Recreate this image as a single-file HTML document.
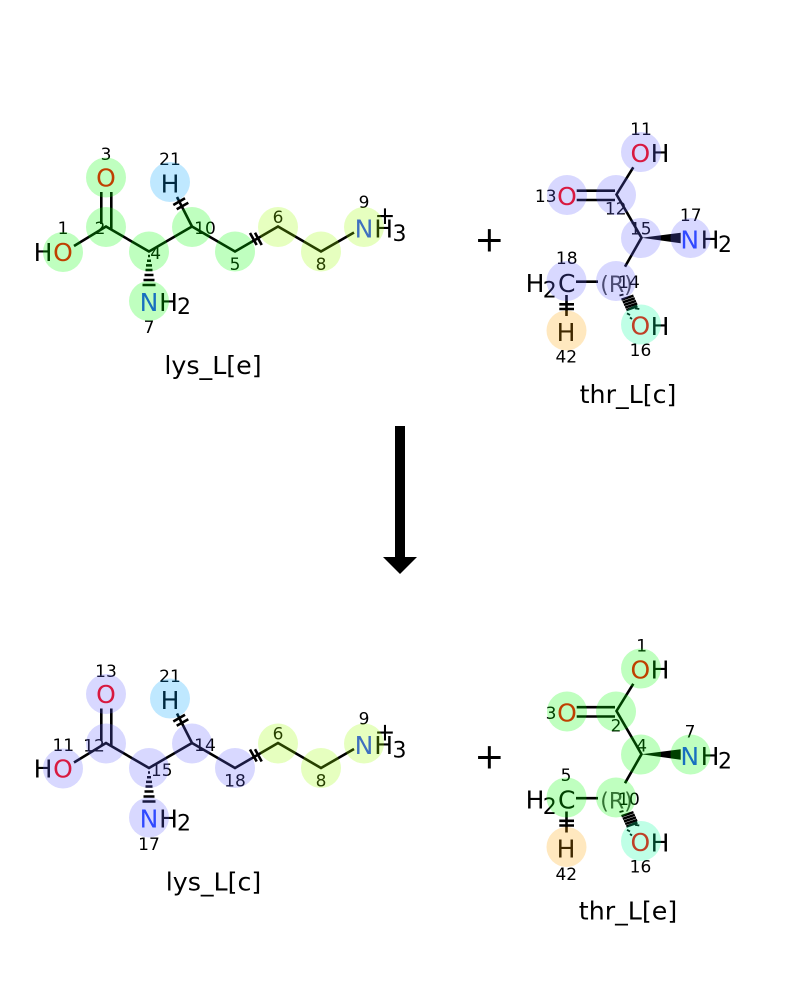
<!DOCTYPE html>
<html>
<head>
<meta charset="utf-8">
<style>
html,body{margin:0;padding:0;background:#fff}
svg{display:block}
text{font-family:"DejaVu Sans","Liberation Sans",sans-serif;text-anchor:middle}
.a{font-size:25px;fill:#000}
.r{font-size:25px;fill:#f00}
.v{font-size:25px;fill:#2040ff}
.s{font-size:22px;fill:#000}
.n{font-size:17px;fill:#000}
.t{font-size:25.300px;fill:#000}
.p{font-size:22px;fill:#444}
.b{stroke:#000;stroke-width:2.600;fill:none}
.h{stroke:#000;stroke-width:2.500;fill:none}
.d{stroke:#000;stroke-width:1.800;fill:none}
</style>
</head>
<body>
<svg width="800" height="1000" viewBox="0 0 800 1000" xmlns="http://www.w3.org/2000/svg">
<rect width="800" height="1000" fill="#fff"/>

<!-- TOP LYS -->
<g>
<path class="b" d="M74 246L106 226.500L149 251.500L192 226.500L235 251.500L278 226.500L321 251.500L354 232.500M192 226.500L177 197M101.300 192V224M111.300 192V229M173.300 205L185 198.300M176.700 209.300L188.300 202.700M250 233L256.700 245M255 232.700L261.700 245"/>
<path class="h" d="M148 256h2M147 260.700h4M146 265.400h6M145.500 270h7M144.500 275h9M143.500 280h11M142.500 285h13"/>
<text class="a" x="43" y="261">H</text><text class="r" x="63" y="261">O</text>
<text class="r" x="106" y="186.500">O</text>
<text class="v" x="149" y="311">N</text><text class="a" x="168.500" y="311">H</text><text class="s" x="184" y="314">2</text>
<text class="a" x="170" y="192.500">H</text>
<text class="v" x="364" y="237.500">N</text><text class="a" x="383.700" y="237.500">H</text><text class="s" x="399.500" y="241">3</text>
<text class="a" x="385" y="224">+</text>
<text class="n" x="63" y="234">1</text><text class="n" x="100" y="234">2</text><text class="n" x="106" y="160">3</text>
<text class="n" x="155.700" y="259">4</text><text class="n" x="235" y="270">5</text><text class="n" x="278" y="223">6</text>
<text class="n" x="149" y="333">7</text><text class="n" x="321" y="270">8</text><text class="n" x="364" y="208">9</text>
<text class="n" x="205" y="234">10</text><text class="n" x="170" y="165">21</text>
<g fill-opacity=".25">
<circle cx="63" cy="252" r="20" fill="#0f0"/><circle cx="106" cy="227" r="20" fill="#0f0"/><circle cx="106" cy="177.500" r="20" fill="#0f0"/>
<circle cx="149" cy="251.500" r="20" fill="#0f0"/><circle cx="149" cy="301" r="20" fill="#0f0"/><circle cx="192" cy="227" r="20" fill="#0f0"/>
<circle cx="235" cy="251.500" r="20" fill="#0f0"/><circle cx="278" cy="227" r="20" fill="#9bff00"/><circle cx="321" cy="251.500" r="20" fill="#9bff00"/>
<circle cx="364" cy="227" r="20" fill="#9bff00"/><circle cx="170" cy="182" r="20" fill="#00a3ff"/>
</g>
<text class="t" x="213" y="374">lys_L[e]</text>
</g>

<!-- TOP THR -->
<g>
<path class="b" d="M633.300 167.300L616.500 194.500L641.500 237.700L625 266.700M576.700 190.700H615M576.700 200H615M598 281.700H576M566.500 295V316M559.300 304.300H574M559.300 309H574"/>
<path d="M641.500 237.700L680.700 232.700V243.300Z" fill="#000"/>
<path class="h" d="M621.500 299.700l12-4M622.800 302.300l12-4M624 304.900l12-4M625.200 307.500l12-4M626.400 310.100l11-4"/>
<path class="d" d="M619.500 295.500l4-1M627 313.300l3 1.700M635 308.300l4.300.7M630 317.500l2 1.500"/>
<text class="r" x="640.300" y="162">O</text><text class="a" x="660" y="162">H</text>
<text class="r" x="567" y="205">O</text>
<text class="v" x="689.700" y="248.500">N</text><text class="a" x="710" y="248.500">H</text><text class="s" x="725" y="252">2</text>
<text class="a" x="535" y="292">H</text><text class="s" x="549.700" y="297.300">2</text><text class="a" x="566.700" y="292">C</text>
<text class="p" x="616.500" y="292">(R)</text>
<text class="a" x="566" y="341">H</text>
<text class="r" x="640.300" y="334.500">O</text><text class="a" x="660" y="335">H</text>
<text class="n" x="641" y="135">11</text><text class="n" x="615.700" y="214.500">12</text><text class="n" x="545.700" y="202">13</text>
<text class="n" x="629" y="288">14</text><text class="n" x="640.700" y="234.500">15</text><text class="n" x="640.500" y="356">16</text>
<text class="n" x="690.700" y="221">17</text><text class="n" x="566.700" y="264">18</text><text class="n" x="566.300" y="362.700">42</text>
<g fill-opacity=".25">
<circle cx="641" cy="152" r="20" fill="#6363ff"/><circle cx="616" cy="195" r="20" fill="#6363ff"/><circle cx="567" cy="195" r="20" fill="#6363ff"/>
<circle cx="641" cy="238" r="20" fill="#6363ff"/><circle cx="690.500" cy="238" r="20" fill="#6363ff"/><circle cx="616" cy="281" r="20" fill="#6363ff"/>
<circle cx="566.500" cy="281" r="20" fill="#6363ff"/><circle cx="566.500" cy="330.500" r="20" fill="#ffa300"/><circle cx="641" cy="324.500" r="20" fill="#00ff9b"/>
</g>
<text class="t" x="628" y="403">thr_L[c]</text>
</g>

<!-- PLUS / ARROW -->
<text x="489.300" y="251.300" style="font-size:36px;fill:#000">+</text>
<text x="489.300" y="768.300" style="font-size:36px;fill:#000">+</text>
<rect x="395" y="426" width="10" height="132" fill="#000"/>
<path d="M383 557H417L400 574Z" fill="#000"/>

<!-- BOTTOM LYS -->
<g transform="translate(0,516.500)">
<path class="b" d="M74 246L106 226.500L149 251.500L192 226.500L235 251.500L278 226.500L321 251.500L354 232.500M192 226.500L177 197M101.300 192V224M111.300 192V229M173.300 205L185 198.300M176.700 209.300L188.300 202.700M250 233L256.700 245M255 232.700L261.700 245"/>
<path class="h" d="M148 256h2M147 260.700h4M146 265.400h6M145.500 270h7M144.500 275h9M143.500 280h11M142.500 285h13"/>
<text class="a" x="43" y="261">H</text><text class="r" x="63" y="261">O</text>
<text class="r" x="106" y="186.500">O</text>
<text class="v" x="149" y="311">N</text><text class="a" x="168.500" y="311">H</text><text class="s" x="184" y="314">2</text>
<text class="a" x="170" y="192.500">H</text>
<text class="v" x="364" y="237.500">N</text><text class="a" x="383.700" y="237.500">H</text><text class="s" x="399.500" y="241">3</text>
<text class="a" x="385" y="224">+</text>
<text class="n" x="63.300" y="234.500">11</text><text class="n" x="94" y="235">12</text><text class="n" x="106" y="160.500">13</text>
<text class="n" x="161.700" y="259.500">15</text><text class="n" x="235" y="270">18</text><text class="n" x="278" y="223">6</text>
<text class="n" x="149" y="333.500">17</text><text class="n" x="321" y="270">8</text><text class="n" x="364" y="208">9</text>
<text class="n" x="205" y="234.500">14</text><text class="n" x="170" y="165.500">21</text>
<g fill-opacity=".25">
<circle cx="63" cy="252" r="20" fill="#6363ff"/><circle cx="106" cy="227" r="20" fill="#6363ff"/><circle cx="106" cy="177.500" r="20" fill="#6363ff"/>
<circle cx="149" cy="251.500" r="20" fill="#6363ff"/><circle cx="149" cy="301" r="20" fill="#6363ff"/><circle cx="192" cy="227" r="20" fill="#6363ff"/>
<circle cx="235" cy="251.500" r="20" fill="#6363ff"/><circle cx="278" cy="227" r="20" fill="#9bff00"/><circle cx="321" cy="251.500" r="20" fill="#9bff00"/>
<circle cx="364" cy="227" r="20" fill="#9bff00"/><circle cx="170" cy="182" r="20" fill="#00a3ff"/>
</g>
<text class="t" x="213.500" y="374">lys_L[c]</text>
</g>

<!-- BOTTOM THR -->
<g transform="translate(0,516.500)">
<path class="b" d="M633.300 167.300L616.500 194.500L641.500 237.700L625 266.700M576.700 190.700H615M576.700 200H615M598 281.700H576M566.500 295V316M559.300 304.300H574M559.300 309H574"/>
<path d="M641.500 237.700L680.700 232.700V243.300Z" fill="#000"/>
<path class="h" d="M621.500 299.700l12-4M622.800 302.300l12-4M624 304.900l12-4M625.200 307.500l12-4M626.400 310.100l11-4"/>
<path class="d" d="M619.500 295.500l4-1M627 313.300l3 1.700M635 308.300l4.300.7M630 317.500l2 1.500"/>
<text class="r" x="640.300" y="162">O</text><text class="a" x="660" y="162">H</text>
<text class="r" x="567" y="205">O</text>
<text class="v" x="689.700" y="248.500">N</text><text class="a" x="710" y="248.500">H</text><text class="s" x="725" y="252">2</text>
<text class="a" x="535" y="292">H</text><text class="s" x="549.700" y="297.300">2</text><text class="a" x="566.700" y="292">C</text>
<text class="p" x="616.500" y="292">(R)</text>
<text class="a" x="566" y="341">H</text>
<text class="r" x="640.300" y="334.500">O</text><text class="a" x="660" y="335">H</text>
<text class="n" x="641.700" y="135">1</text><text class="n" x="616" y="215">2</text><text class="n" x="551" y="202.500">3</text>
<text class="n" x="641.700" y="235">4</text><text class="n" x="566" y="264.500">5</text><text class="n" x="640.500" y="356">16</text>
<text class="n" x="690" y="221">7</text><text class="n" x="629" y="288.500">10</text><text class="n" x="566.300" y="363.500">42</text>
<g fill-opacity=".25">
<circle cx="641" cy="152" r="20" fill="#0f0"/><circle cx="616" cy="195" r="20" fill="#0f0"/><circle cx="567" cy="195" r="20" fill="#0f0"/>
<circle cx="641" cy="238" r="20" fill="#0f0"/><circle cx="690.500" cy="238" r="20" fill="#0f0"/><circle cx="616" cy="281" r="20" fill="#0f0"/>
<circle cx="566.500" cy="281" r="20" fill="#0f0"/><circle cx="566.500" cy="330.500" r="20" fill="#ffa300"/><circle cx="641" cy="324.500" r="20" fill="#00ff9b"/>
</g>
<text class="t" x="628" y="403">thr_L[e]</text>
</g>
</svg>
</body>
</html>
